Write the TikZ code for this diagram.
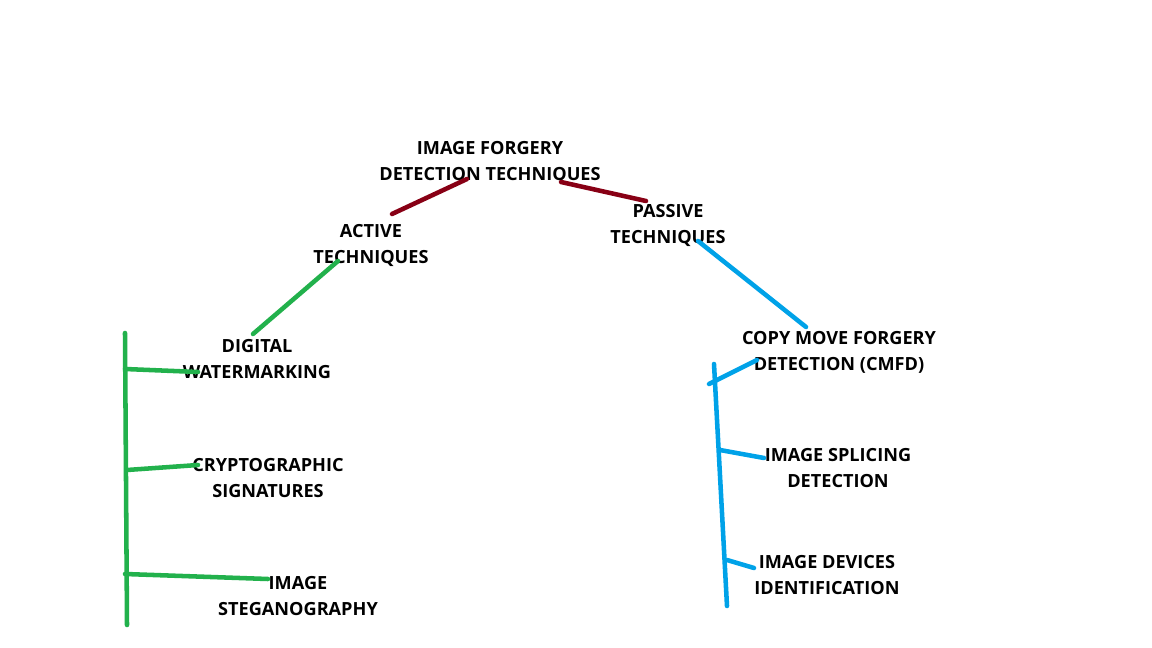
\documentclass[tikz,border=0pt]{standalone}
\usepackage{fontspec}
\setmainfont{Open Sans}
\usepackage{xcolor}
\definecolor{maroon}{HTML}{880015}
\definecolor{leaf}{HTML}{22B14C}
\definecolor{sky}{HTML}{00A2E8}
\tikzset{
  lbl/.style={align=center, font=\bfseries\fontsize{13.6}{19.5}\selectfont, inner sep=0pt},
  top/.style={draw=maroon, line width=3.4pt, line cap=round},
  act/.style={draw=leaf, line width=3.4pt, line cap=round},
  pas/.style={draw=sky, line width=3.4pt, line cap=round}
}
\begin{document}
\begin{tikzpicture}[x=0.75pt,y=-0.75pt]
\useasboundingbox (0,0) rectangle (1152,648);
% labels
\node[lbl] (root) at (490,162) {IMAGE FORGERY\\DETECTION TECHNIQUES};
\node[lbl] (active) at (371,245) {ACTIVE\\TECHNIQUES};
\node[lbl] (passive) at (668,225) {PASSIVE\\TECHNIQUES};
\node[lbl] (water) at (257,359) {DIGITAL\\WATERMARKING};
\node[lbl] (crypto) at (268,478) {CRYPTOGRAPHIC\\SIGNATURES};
\node[lbl] (steg) at (298,596) {IMAGE\\STEGANOGRAPHY};
\node[lbl] (cmfd) at (839,352) {COPY MOVE FORGERY\\DETECTION (CMFD)};
\node[lbl] (splice) at (838,468) {IMAGE SPLICING\\DETECTION};
\node[lbl] (device) at (827,575) {IMAGE DEVICES\\IDENTIFICATION};

% end points of the strokes
\coordinate (r1) at (467,179); \coordinate (a1) at (392,214);
\coordinate (r2) at (561,182); \coordinate (p1) at (646,201);
\coordinate (a2) at (338,261); \coordinate (w1) at (253,334);
\coordinate (p2) at (698,241); \coordinate (c1) at (806,327);
% green spine
\coordinate (gtop) at (125,333); \coordinate (gbot) at (127,625);
\coordinate (g1) at (125,369); \coordinate (w2) at (198,372);
\coordinate (g2) at (127,470); \coordinate (k1) at (198,465);
\coordinate (g3) at (125,574); \coordinate (s1) at (268,579);
% blue spine
\coordinate (btop) at (714,364); \coordinate (bbot) at (727,606);
\coordinate (b1) at (709,384); \coordinate (c2) at (757,360);
\coordinate (b2) at (720,450); \coordinate (i1) at (764,458);
\coordinate (b3) at (727,560); \coordinate (d1) at (754,568);

% root to children
\draw[top] (r1)--(a1);
\draw[top] (r2)--(p1);
% active branch
\draw[act] (a2)--(w1);
\draw[act] (gtop)--(gbot);
\draw[act] (g1)--(w2);
\draw[act] (g2)--(k1);
\draw[act] (g3)--(s1);
% passive branch
\draw[pas] (p2)--(c1);
\draw[pas] (btop)--(bbot);
\draw[pas] (b1)--(c2);
\draw[pas] (b2)--(i1);
\draw[pas] (b3)--(d1);
\end{tikzpicture}
\end{document}
